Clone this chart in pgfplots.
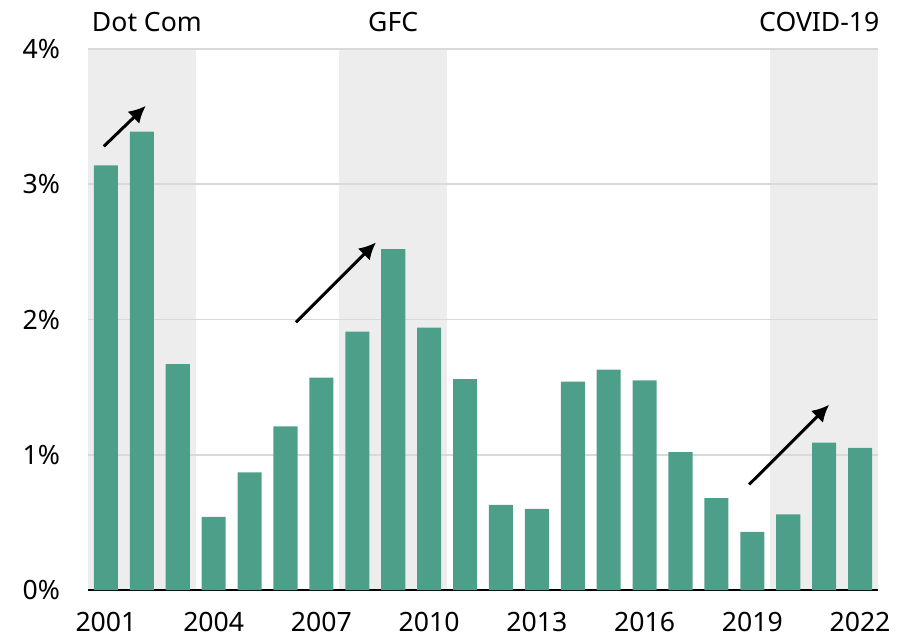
\documentclass[border=0pt]{standalone}
\usepackage{fontspec}
\setmainfont{Noto Sans}
\usepackage{pgfplots}
\pgfplotsset{compat=1.18}
\usetikzlibrary{arrows.meta}
\definecolor{barc}{HTML}{4E9F8A}
\definecolor{shade}{HTML}{EDEDED}
\definecolor{gridc}{HTML}{D9D9D9}

\pgfplotstableread{
year val
2001 3.14
2002 3.39
2003 1.67
2004 0.54
2005 0.87
2006 1.21
2007 1.57
2008 1.91
2009 2.52
2010 1.94
2011 1.56
2012 0.63
2013 0.60
2014 1.54
2015 1.63
2016 1.55
2017 1.02
2018 0.68
2019 0.43
2020 0.56
2021 1.09
2022 1.05
}\datatable

\begin{document}
\begin{tikzpicture}
\begin{axis}[
  set layers,
  scale only axis,
  width=395pt, height=270.5pt,
  xmin=2000.5, xmax=2022.5,
  ymin=0, ymax=4,
  clip=false,
  axis lines*=left,
  x axis line style={-, black, line width=1pt},
  y axis line style={draw=none},
  xtick={2001,2004,...,2022},
  ytick={0,1,2,3,4},
  major tick length=0pt,
  ymajorgrids,
  grid style={draw=gridc, line width=0.9pt},
  /pgf/number format/assume math mode=true,
  xticklabel={\pgfmathprintnumber[fixed,set thousands separator={}]{\tick}},
  yticklabel={\pgfmathprintnumber{\tick}\%},
  tick label style={font=\fontsize{13.3}{16}\selectfont},
  yticklabel style={anchor=east, xshift=-10.5pt},
  xticklabel style={anchor=north, yshift=-7.5pt},
]
% recession shading
\addplot[on layer=axis background, fill=shade, draw=none] coordinates {(2000.5,0) (2000.5,4) (2003.5,4) (2003.5,0)} -- cycle;
\addplot[on layer=axis background, fill=shade, draw=none] coordinates {(2007.5,0) (2007.5,4) (2010.5,4) (2010.5,0)} -- cycle;
\addplot[on layer=axis background, fill=shade, draw=none] coordinates {(2019.5,0) (2019.5,4) (2022.5,4) (2022.5,0)} -- cycle;

\addplot[ybar, bar width=0.67, fill=barc, draw=none] table[x=year, y=val] {\datatable};

% arrows
\draw[line width=1.5pt, -{Latex[length=8.5pt, width=8.5pt]}] (axis cs:2000.94,3.28) -- (axis cs:2002.11,3.58);
\draw[line width=1.5pt, -{Latex[length=8.5pt, width=8.5pt]}] (axis cs:2006.29,1.98) -- (axis cs:2008.52,2.57);
\draw[line width=1.5pt, -{Latex[length=8.5pt, width=8.5pt]}] (axis cs:2018.91,0.78) -- (axis cs:2021.14,1.37);

% labels
\node[anchor=base west, font=\fontsize{13.3}{16}\selectfont, inner sep=0pt] at (axis cs:2000.6,4.13) {Dot Com};
\node[anchor=base, font=\fontsize{13.3}{16}\selectfont, inner sep=0pt] at (axis cs:2009,4.13) {GFC};
\node[anchor=base east, font=\fontsize{13.3}{16}\selectfont, inner sep=0pt] at (axis cs:2022.55,4.13) {COVID-19};

% page size
\path (rel axis cs:0,0) ++(-44pt,-23.5pt) rectangle ++(456.5pt,318.5pt);
\end{axis}
\end{tikzpicture}
\end{document}
